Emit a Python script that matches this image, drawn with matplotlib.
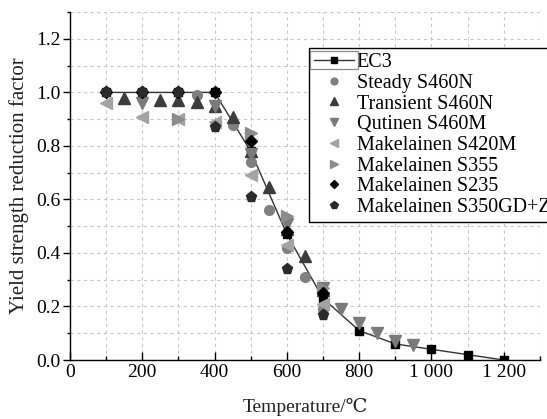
import matplotlib
matplotlib.use("Agg")
import matplotlib.pyplot as plt
from matplotlib.ticker import MultipleLocator, FixedLocator, FixedFormatter
from matplotlib.patches import Rectangle

plt.rcParams['font.family'] = ['Liberation Serif', 'DejaVu Serif']
plt.rcParams['mathtext.fontset'] = 'stix'

# ---- data ----
ec3_T = [100, 200, 300, 400, 500, 600, 700, 800, 900, 1000, 1100, 1200]
ec3_k = [1.0, 1.0, 1.0, 1.0, 0.78, 0.47, 0.23, 0.11, 0.06, 0.04, 0.02, 0.0]

steady_T = [350, 450, 500, 550, 600, 650, 700]
steady_k = [0.99, 0.88, 0.74, 0.56, 0.42, 0.31, 0.19]

trans_T = [150, 250, 300, 350, 400, 450, 500, 550, 600, 650, 700]
trans_k = [0.98, 0.97, 0.97, 0.965, 0.95, 0.91, 0.78, 0.645, 0.49, 0.39, 0.26]

qut_T = [200, 400, 500, 600, 700, 750, 800, 850, 900, 950]
qut_k = [0.96, 0.95, 0.77, 0.51, 0.27, 0.19, 0.14, 0.10, 0.07, 0.055]

s420_T = [100, 200, 300, 400, 500, 600, 700]
s420_k = [0.96, 0.91, 0.90, 0.89, 0.69, 0.43, 0.21]

s355_T = [300, 500, 600, 700]
s355_k = [0.90, 0.85, 0.54, 0.27]

s235_T = [100, 200, 300, 400, 500, 600, 700]
s235_k = [1.0, 1.0, 1.0, 1.0, 0.82, 0.48, 0.25]

s350_T = [100, 200, 300, 400, 500, 600, 700]
s350_k = [1.0, 1.0, 1.0, 0.87, 0.61, 0.34, 0.17]

x_ticks = [0, 200, 400, 600, 800, 1000, 1200]
x_labels = ['0', '200', '400', '600', '800', '1 000', '1 200']
y_ticks = [0.0, 0.2, 0.4, 0.6, 0.8, 1.0, 1.2]
y_labels = ['0.0', '0.2', '0.4', '0.6', '0.8', '1.0', '1.2']

fig = plt.figure(figsize=(5.47, 4.19), dpi=100)
ax = fig.add_axes([0.128, 0.1408, 0.859, 0.8302])

ms = 7
ax.plot(ec3_T, ec3_k, '-s', color='#333333', mfc='black', mec='black', lw=1.0, ms=6, label='EC3', zorder=3)
ax.plot(steady_T, steady_k, 'o', ls='none', color='#808080', ms=ms, label='Steady S460N', zorder=4)
ax.plot(trans_T, trans_k, '^', ls='none', color='#3c3c3c', ms=ms + 1, label='Transient S460N', zorder=4)
ax.plot(qut_T, qut_k, 'v', ls='none', color='#7a7a7a', ms=ms + 1, label='Qutinen S460M', zorder=4)
ax.plot(s420_T, s420_k, '<', ls='none', color='#a3a3a3', ms=ms + 1, label='Makelainen S420M', zorder=4)
ax.plot(s355_T, s355_k, '>', ls='none', color='#8c8c8c', ms=ms + 1, label='Makelainen S355', zorder=4)
ax.plot(s235_T, s235_k, 'D', ls='none', color='black', ms=ms - 0.5, label='Makelainen S235', zorder=4)
ax.plot(s350_T, s350_k, 'p', ls='none', color='#2a2a2a', ms=ms + 1, label='Makelainen S350GD+Z', zorder=4)

ax.set_xlim(0, 1300)
ax.set_ylim(0, 1.3)
ax.xaxis.set_major_locator(FixedLocator(x_ticks))
ax.xaxis.set_major_formatter(FixedFormatter(x_labels))
ax.yaxis.set_major_locator(FixedLocator(y_ticks))
ax.yaxis.set_major_formatter(FixedFormatter(y_labels))
ax.xaxis.set_minor_locator(MultipleLocator(100))
ax.yaxis.set_minor_locator(MultipleLocator(0.1))

ax.grid(True, which='both', ls=(0, (3, 3)), color='#c8c8c8', lw=0.8)
ax.set_axisbelow(True)
for s in ['top', 'right']:
    ax.spines[s].set_visible(False)
for s in ['left', 'bottom']:
    ax.spines[s].set_linewidth(1.0)

ax.tick_params(axis='x', which='major', direction='in', length=6, width=1, labelsize=14, pad=3)
ax.tick_params(axis='x', which='minor', direction='in', length=3, width=1)
ax.tick_params(axis='y', which='major', direction='out', length=5, width=1, labelsize=14, pad=2)
ax.tick_params(axis='y', which='minor', direction='out', length=2.5, width=1)

ax.set_xlabel('Temperature/℃', fontsize=14, labelpad=12, color='#222222')
ax.set_ylabel('Yield strength reduction factor', fontsize=15, labelpad=5, color='#222222')

leg = ax.legend(loc='upper left', bbox_to_anchor=(0.509, 0.897), borderaxespad=0,
                fontsize=14.5, labelspacing=0.08, handlelength=2.0, handletextpad=0.1,
                borderpad=0.25, markerscale=0.7, fancybox=False, framealpha=1,
                edgecolor='black')
leg.get_frame().set_linewidth(1.0)
leg.set_clip_on(False)

# thin grey box around the EC3 legend handle (as in the reference)
fig.canvas.draw()
renderer = fig.canvas.get_renderer()
h = leg.legend_handles[0]
bb = h.get_window_extent(renderer)
W, H = fig.bbox.width, fig.bbox.height
box_h = 18
cy = (bb.y0 + bb.y1) / 2
rect = Rectangle(((bb.x0 - 1) / W, (cy - box_h / 2) / H), (bb.width + 2) / W, box_h / H,
                 transform=fig.transFigure, fill=False, edgecolor='#888888', lw=0.9, zorder=10)
fig.add_artist(rect)

fig.savefig('out.png', dpi=100)
